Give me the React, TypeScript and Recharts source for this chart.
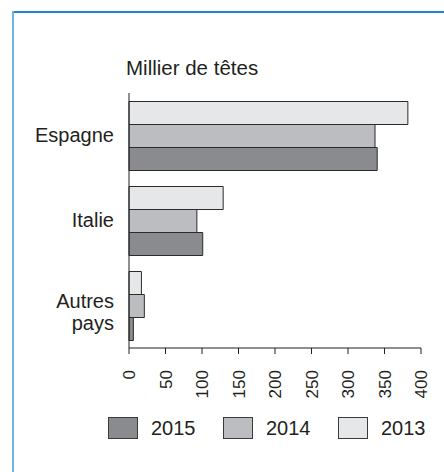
import React from 'react';
import { BarChart, Bar, XAxis, YAxis } from 'recharts';

const categories = ['Espagne', 'Italie', 'Autres pays'];
const values2013 = [382, 129, 17];
const values2014 = [337, 93, 21];
const values2015 = [340, 101, 6];
const xTicks = [0, 50, 100, 150, 200, 250, 300, 350, 400];
const bandEdges = [0, 1, 2, 3];

// bars are drawn top to bottom in this order, legend reads the other way
const series = [
  { key: '2013', values: values2013, fill: '#e6e7e8' },
  { key: '2014', values: values2014, fill: '#bcbdc0' },
  { key: '2015', values: values2015, fill: '#8a8b8e' },
];

const chartData = categories.map((name, i) => {
  const row: Record<string, string | number> = { name };
  series.forEach(s => {
    row[s.key] = s.values[i];
  });
  return row;
});

const FONT = '"Liberation Sans", Arial, Helvetica, sans-serif';
const INK = '#231f20';

const CategoryTick = (props: any) => {
  const { x, y, payload } = props;
  const lines = String(payload.value).split(' ');
  const first = lines.length > 1 ? 2 : 6;
  return (
    <text x={x} y={y} textAnchor="end" fill={INK} fontSize={20} fontFamily={FONT}>
      {lines.map((l, i) => (
        <tspan key={i} x={x} dy={i === 0 ? first : 22}>{l}</tspan>
      ))}
    </text>
  );
};

const ValueTick = (props: any) => {
  const { x, y, payload } = props;
  return (
    <g transform={`translate(${x},${y})`}>
      <text transform="rotate(-90)" textAnchor="end" dy="0.36em" fill={INK} fontSize={17} fontFamily={FONT}>
        {payload.value}
      </text>
    </g>
  );
};

const App: React.FC = () => {
  const legendItems = [...series].reverse();
  return (
    <div style={{ position: 'absolute', left: 0, top: 0, width: 444, height: 472, background: '#fff', fontFamily: FONT }}>
      <div style={{ position: 'absolute', left: 13, top: 11, right: 0, borderTop: '2px solid #1f86d2' }} />
      <div style={{ position: 'absolute', left: 12, top: 11, bottom: 0, borderLeft: '2px solid #6db4e0' }} />
      <div style={{ position: 'absolute', left: 126, top: 57, fontSize: 20.5, color: INK, lineHeight: '22px' }}>
        Millier de têtes
      </div>
      <div style={{ position: 'absolute', left: 0, top: 0 }}>
        <BarChart
          width={444}
          height={472}
          data={chartData}
          layout="vertical"
          margin={{ top: 93, right: 23, left: 8, bottom: 74 }}
          barCategoryGap="10%"
          barGap={0}
        >
          <YAxis
            yAxisId="cat"
            type="category"
            dataKey="name"
            width={120}
            axisLine={false}
            tickLine={false}
            tickSize={0}
            tickMargin={14}
            tick={<CategoryTick />}
          />
          <YAxis
            yAxisId="aedge"
            type="number"
            domain={[0, 3]}
            ticks={bandEdges}
            tick={false}
            width={1}
            tickSize={6}
            axisLine={{ stroke: INK }}
            tickLine={{ stroke: INK }}
          />
          <XAxis
            type="number"
            domain={[0, 400]}
            ticks={xTicks}
            height={50}
            tickSize={6}
            tickMargin={16}
            axisLine={{ stroke: INK }}
            tickLine={{ stroke: INK }}
            tick={<ValueTick />}
          />
          {series.map(s => (
            <Bar
              key={s.key}
              yAxisId="cat"
              dataKey={s.key}
              fill={s.fill}
              stroke="#2b2b2b"
              strokeWidth={1}
              isAnimationActive={false}
            />
          ))}
        </BarChart>
      </div>
      {legendItems.map((s, i) => (
        <div key={s.key} style={{ position: 'absolute', left: 108 + i * 115, top: 417, display: 'flex', alignItems: 'center' }}>
          <div style={{ width: 28, height: 20, background: s.fill, border: '1px solid #3a3a3a' }} />
          <span style={{ marginLeft: 13, fontSize: 20, color: INK, lineHeight: '22px' }}>{s.key}</span>
        </div>
      ))}
    </div>
  );
};

export default App;
